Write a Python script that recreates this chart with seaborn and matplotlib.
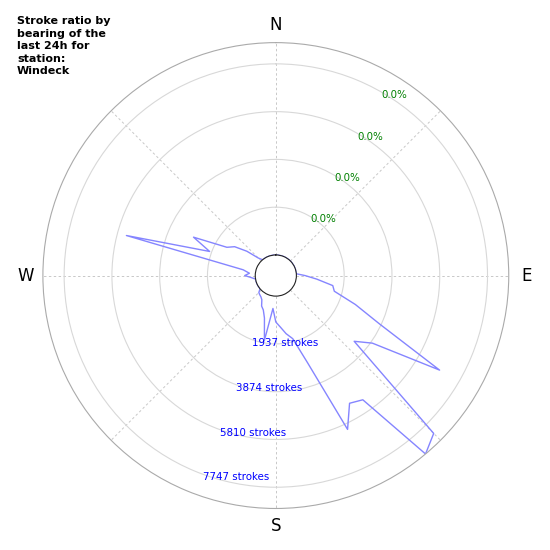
import numpy as np
import pandas as pd
import matplotlib
matplotlib.use("Agg")
import matplotlib.pyplot as plt
import seaborn as sns

# ==========================================
# 1. DATA (strokes per 5 degree bearing bin)
# ==========================================
station = "Windeck"
bearing_deg = list(range(0, 360, 5))
strokes = [
    0, 0, 0, 0, 0, 0, 0, 0, 0, 0, 0, 0, 0, 0, 0, 0, 0, 0,          # 0 - 85
    350, 834, 1510, 1620, 2596, 3800, 6832, 3943, 3312, 8216,      # 90 - 135
    8608, 5314, 5144, 6047, 2930, 1815, 1558, 1261, 1050, 505,     # 140 - 185
    1835, 948, 650, 530, 300, 220, 180, 140, 0, 0,                 # 190 - 235
    0, 0, 0, 0, 0, 155, 427, 240, 510, 5437,                       # 240 - 285
    2022, 2848, 1457, 1205, 700, 171, 0, 0, 0, 0,                  # 290 - 335
    0, 0, 0, 0,                                                    # 340 - 355
]
ring_values = [1937, 3874, 5810, 7747]
ring_labels = ["1937 strokes", "3874 strokes", "5810 strokes", "7747 strokes"]
pct_labels = ["0.0%", "0.0%", "0.0%", "0.0%"]
compass_labels = ["N", "", "E", "", "S", "", "W", ""]

# close the loop
df = pd.DataFrame({"bearing": bearing_deg + [360], "strokes": strokes + [strokes[0]]})
df["theta"] = np.deg2rad(df["bearing"])

# ==========================================
# 2. PLOT
# ==========================================
sns.set_style("white")
plt.rcParams['font.family'] = ['DejaVu Sans']
plt.rcParams['text.color'] = 'black'
plt.rcParams['xtick.color'] = 'black'

fig = plt.figure(figsize=(5.5, 5.5), dpi=100)
ax = fig.add_axes([0.078, 0.0755, 0.847, 0.847], projection="polar")
ax.set_theta_zero_location("N")
ax.set_theta_direction(-1)

sns.lineplot(data=df, x="theta", y="strokes", sort=False, estimator=None,
             color="#8585ff", linewidth=1.0, ax=ax)

ax.set_rorigin(-834)
ax.set_ylim(0, max(strokes))
ax.set_xlabel("")
ax.set_ylabel("")

ax.set_thetagrids(np.arange(0, 360, 45), compass_labels, fontsize=12, color="black")
ax.tick_params(axis="x", pad=2.0)
ax.set_yticks(ring_values)
ax.set_yticklabels([])

ax.xaxis.grid(True, color="#c8c8c8", linestyle=(0, (2.5, 2.5)), linewidth=0.7)
ax.yaxis.grid(True, color="#d8d8d8", linestyle="-", linewidth=0.8)
ax.spines["polar"].set_color("#aaaaaa")
ax.spines["polar"].set_linewidth(0.8)
ax.spines["inner"].set_color("#222222")
ax.spines["inner"].set_linewidth(0.8)

for v, lab in zip(ring_values, ring_labels):
    ax.annotate(lab, xy=(np.deg2rad(200), v), xytext=(0, -3), textcoords="offset pixels",
                ha="left", va="center", fontsize=7.4, color="blue")
for v, lab in zip(ring_values, pct_labels):
    ax.annotate(lab, xy=(np.deg2rad(30), v), xytext=(0, -3), textcoords="offset pixels",
                ha="left", va="center", fontsize=7.4, color="green")

fig.text(0.031, 0.970, f"Stroke ratio by\nbearing of the\nlast 24h for\nstation:\n{station}",
         ha="left", va="top", fontsize=8.0, fontweight="bold", linespacing=1.3,
         color="black")

fig.savefig("out.png", dpi=100)
